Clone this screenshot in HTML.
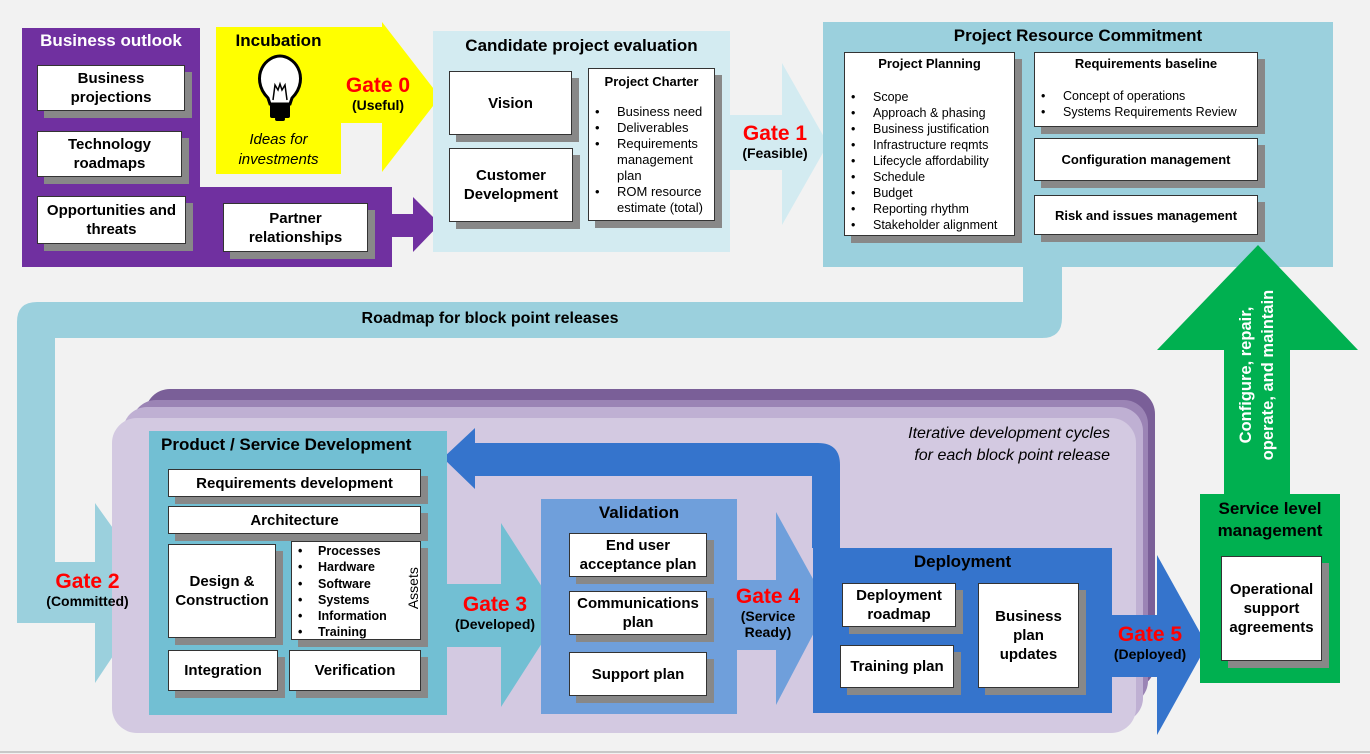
<!DOCTYPE html>
<html><head><meta charset="utf-8"><style>
body{margin:0;width:1370px;height:754px;background:#f2f2f2;position:relative;overflow:hidden;font-family:"Liberation Sans",Arial,sans-serif;}
.a{position:absolute;}
.b{position:absolute;background:#fff;border:1px solid #333;box-shadow:7px 7px 0 #888;box-sizing:border-box;display:flex;align-items:center;justify-content:center;text-align:center;font-weight:bold;font-size:15px;line-height:19px;color:#000;}
.t{position:absolute;font-weight:bold;font-size:17px;text-align:center;white-space:nowrap;}
.g{position:absolute;text-align:center;font-weight:bold;white-space:nowrap;}
.g .r{color:#f00;font-size:21px;line-height:23px;}
.g .s{font-size:14px;line-height:16px;}
ul{margin:0;padding:0;list-style:none;}
li{position:relative;padding-left:28px;}
li:before{content:"•";position:absolute;left:6px;}
.n{font-size:13px;font-weight:normal;line-height:16px;}
</style></head><body>
<svg class="a" style="left:0;top:0" width="1370" height="754">
<path d="M22 28H200V187H392V267H22Z" fill="#7030a0"/>
<path d="M392 214H413V197L440 224L413 252V237H392Z" fill="#7030a0"/>
<rect x="216" y="27" width="125" height="147" fill="#ffff00"/>
<path d="M341 27H382V22L440 97L382 172V123H341Z" fill="#ffff00"/>
<rect x="433" y="31" width="297" height="221" fill="#d3ebf1"/>
<path d="M730 115H782V63L828 144L782 225V170H730Z" fill="#d3ebf1"/>
<rect x="823" y="22" width="510" height="245" fill="#9bd0dd"/>
<path d="M1023 260H1062V318Q1062 338 1042 338H55V562H95V503L157 590L95 683V623H17V322Q17 302 37 302H1023Z" fill="#9bd0dd"/>
<rect x="145" y="389" width="1010" height="300" rx="25" fill="#7a5f98"/>
<rect x="132" y="400" width="1016" height="305" rx="24" fill="#9b84b5"/>
<rect x="123" y="407" width="1020" height="315" rx="24" fill="#bfb0d3"/>
<rect x="112" y="418" width="1024" height="315" rx="25" fill="#d3c9e1"/>
<path d="M840 548V465Q840 443 818 443H475V428L443 458L475 489V476H812V548Z" fill="#3574cc"/>
<rect x="149" y="431" width="298" height="284" fill="#72bfd3"/>
<path d="M447 584H501V523L560 615L501 707V647H447Z" fill="#72bfd3"/>
<rect x="541" y="499" width="196" height="215" fill="#6f9fdb"/>
<path d="M737 580H776V512L828 606L776 705V650H737Z" fill="#6f9fdb"/>
<rect x="813" y="548" width="299" height="165" fill="#3574cc"/>
<path d="M1112 615H1157V555L1207 645L1157 735V677H1112Z" fill="#3574cc"/>
<rect x="1200" y="494" width="140" height="189" fill="#00b050"/>
<path d="M1224 494V350H1157L1258 245L1358 350H1290V494Z" fill="#00b050"/>
<line x1="0" y1="752" x2="1370" y2="752" stroke="#c8c8c8" stroke-width="2"/>
<!-- bulb -->
<g stroke="#000" stroke-width="3" fill="#fff">
<path d="M268 98 C258 88 258 76 262 68 C266 60 274 56 280 56 C286 56 294 60 298 68 C302 76 302 88 292 98 L290 104 H270 Z"/>
</g>
<g stroke="#000" stroke-width="1.5" fill="none"><path d="M273 100 L275 85 L278 90 L280 84 L282 90 L285 85 L287 100"/></g>
<rect x="270" y="104" width="20" height="14" fill="#000" rx="2"/>
<rect x="275" y="117" width="10" height="4" fill="#000" rx="2"/>
</svg>

<div class="t" style="left:22px;width:178px;top:31px;color:#fff;">Business outlook</div>
<div class="b" style="left:37px;top:65px;width:148px;height:46px;">Business<br>projections</div>
<div class="b" style="left:37px;top:131px;width:145px;height:46px;">Technology<br>roadmaps</div>
<div class="b" style="left:37px;top:196px;width:149px;height:48px;">Opportunities and<br>threats</div>
<div class="b" style="left:223px;top:203px;width:145px;height:49px;">Partner<br>relationships</div>

<div class="t" style="left:216px;width:125px;top:31px;">Incubation</div>
<div class="a" style="left:216px;width:125px;top:130px;text-align:center;font-style:italic;font-size:15px;line-height:20px;">Ideas for<br>investments</div>
<div class="g" style="left:330px;width:96px;top:74px;"><div class="r">Gate 0</div><div class="s">(Useful)</div></div>

<div class="t" style="left:433px;width:297px;top:36px;">Candidate project evaluation</div>
<div class="b" style="left:449px;top:71px;width:123px;height:64px;">Vision</div>
<div class="b" style="left:449px;top:148px;width:124px;height:74px;">Customer<br>Development</div>
<div class="b" style="left:588px;top:68px;width:127px;height:153px;display:block;text-align:left;font-weight:normal;font-size:13px;line-height:16px;">
<div style="text-align:center;font-weight:bold;margin-top:5px;margin-bottom:14px;">Project Charter</div>
<ul><li>Business need</li><li>Deliverables</li><li>Requirements management plan</li><li>ROM resource estimate (total)</li></ul></div>
<div class="g" style="left:727px;width:96px;top:122px;"><div class="r">Gate 1</div><div class="s">(Feasible)</div></div>

<div class="t" style="left:823px;width:510px;top:26px;">Project Resource Commitment</div>
<div class="b n" style="left:844px;top:52px;width:171px;height:184px;display:block;text-align:left;">
<div style="text-align:center;font-weight:bold;margin-top:3px;margin-bottom:17px;">Project Planning</div>
<ul style="font-size:12.5px;"><li>Scope</li><li>Approach &amp; phasing</li><li>Business justification</li><li>Infrastructure reqmts</li><li>Lifecycle affordability</li><li>Schedule</li><li>Budget</li><li>Reporting rhythm</li><li>Stakeholder alignment</li></ul></div>
<div class="b n" style="left:1034px;top:52px;width:224px;height:75px;display:block;text-align:left;">
<div style="text-align:center;font-weight:bold;margin-top:3px;margin-bottom:16px;">Requirements baseline</div>
<ul style="font-size:12.5px;"><li>Concept of operations</li><li>Systems Requirements Review</li></ul></div>
<div class="b" style="left:1034px;top:138px;width:224px;height:43px;font-size:13px;">Configuration management</div>
<div class="b" style="left:1034px;top:195px;width:224px;height:40px;font-size:13px;">Risk and issues management</div>

<div class="t" style="left:200px;width:580px;top:310px;font-size:16px;">Roadmap for block point releases</div>
<div class="g" style="left:30px;width:115px;top:570px;"><div class="r">Gate 2</div><div class="s">(Committed)</div></div>

<div class="a" style="left:800px;width:310px;top:423px;text-align:right;font-style:italic;font-size:16px;line-height:22px;">Iterative development cycles<br>for each block point release</div>

<div class="t" style="left:161px;top:435px;">Product / Service Development</div>
<div class="b" style="left:168px;top:469px;width:253px;height:28px;">Requirements development</div>
<div class="b" style="left:168px;top:506px;width:253px;height:28px;">Architecture</div>
<div class="b" style="left:168px;top:544px;width:108px;height:94px;">Design &amp;<br>Construction</div>
<div class="b" style="left:291px;top:541px;width:130px;height:99px;display:block;text-align:left;font-size:12.5px;line-height:16.3px;">
<ul style="margin-top:1px;"><li style="padding-left:26px">Processes</li><li style="padding-left:26px">Hardware</li><li style="padding-left:26px">Software</li><li style="padding-left:26px">Systems</li><li style="padding-left:26px">Information</li><li style="padding-left:26px">Training</li></ul>
<div class="a" style="left:100px;top:38px;transform:rotate(-90deg);font-weight:normal;font-size:14px;">Assets</div></div>
<div class="b" style="left:168px;top:650px;width:110px;height:41px;">Integration</div>
<div class="b" style="left:289px;top:650px;width:132px;height:41px;">Verification</div>
<div class="g" style="left:440px;width:110px;top:593px;"><div class="r">Gate 3</div><div class="s">(Developed)</div></div>

<div class="t" style="left:541px;width:196px;top:503px;">Validation</div>
<div class="b" style="left:569px;top:533px;width:138px;height:44px;">End user<br>acceptance plan</div>
<div class="b" style="left:569px;top:591px;width:138px;height:44px;">Communications<br>plan</div>
<div class="b" style="left:569px;top:652px;width:138px;height:44px;">Support plan</div>
<div class="g" style="left:723px;width:90px;top:585px;"><div class="r">Gate 4</div><div class="s">(Service<br>Ready)</div></div>

<div class="t" style="left:813px;width:299px;top:552px;">Deployment</div>
<div class="b" style="left:842px;top:583px;width:114px;height:44px;">Deployment<br>roadmap</div>
<div class="b" style="left:840px;top:645px;width:114px;height:43px;">Training plan</div>
<div class="b" style="left:978px;top:583px;width:101px;height:105px;">Business<br>plan<br>updates</div>
<div class="g" style="left:1100px;width:100px;top:623px;"><div class="r">Gate 5</div><div class="s">(Deployed)</div></div>

<div class="t" style="left:1200px;width:140px;top:498px;line-height:22px;">Service level<br>management</div>
<div class="b" style="left:1221px;top:556px;width:101px;height:105px;">Operational<br>support<br>agreements</div>
<div class="a" style="left:1157px;width:200px;top:353px;height:44px;transform:rotate(-90deg);color:#fff;font-weight:bold;font-size:16.5px;line-height:22px;text-align:center;white-space:nowrap;">Configure, repair,<br>operate, and maintain</div>
</body></html>
